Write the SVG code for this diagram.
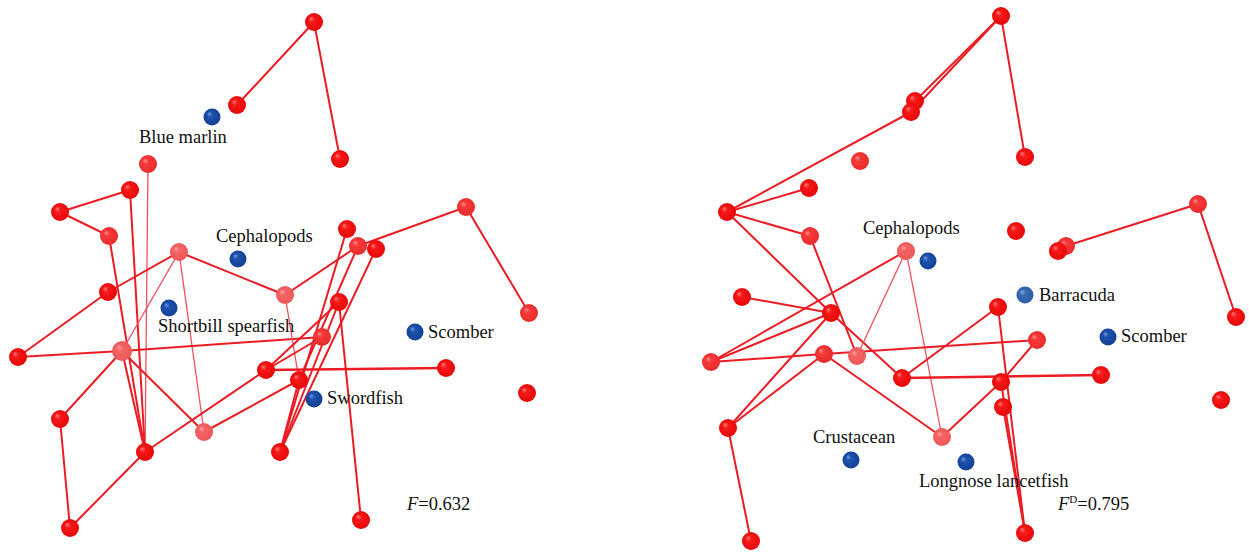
<svg xmlns="http://www.w3.org/2000/svg" width="1249" height="552" viewBox="0 0 1249 552">
<defs>
<radialGradient id="gR" cx="0.5" cy="0.5" r="0.55" fx="0.32" fy="0.3">
<stop offset="0" stop-color="#ff7a7a"/><stop offset="0.3" stop-color="#f71818"/><stop offset="1" stop-color="#e40606"/>
</radialGradient>
<radialGradient id="gLR" cx="0.5" cy="0.5" r="0.55" fx="0.32" fy="0.3">
<stop offset="0" stop-color="#ff8a8a"/><stop offset="0.3" stop-color="#f53a3a"/><stop offset="1" stop-color="#e82a2a"/>
</radialGradient>
<radialGradient id="gP" cx="0.5" cy="0.5" r="0.55" fx="0.32" fy="0.3">
<stop offset="0" stop-color="#ffa0a0"/><stop offset="0.3" stop-color="#f46464"/><stop offset="1" stop-color="#ec5656"/>
</radialGradient>
<radialGradient id="gB" cx="0.5" cy="0.5" r="0.55" fx="0.32" fy="0.3">
<stop offset="0" stop-color="#6f9be0"/><stop offset="0.3" stop-color="#1d52ad"/><stop offset="1" stop-color="#123f92"/>
</radialGradient>
<radialGradient id="gB2" cx="0.5" cy="0.5" r="0.55" fx="0.32" fy="0.3">
<stop offset="0" stop-color="#8cb0e6"/><stop offset="0.3" stop-color="#3a6db6"/><stop offset="1" stop-color="#2a5ca6"/>
</radialGradient>
</defs>
<style>
.e{stroke:#ec1c24;stroke-width:2;fill:none;stroke-linecap:round}
.t{stroke:#f05060;stroke-width:1.3;fill:none;stroke-linecap:round}
.r{fill:url(#gR)}
.lr{fill:url(#gLR)}
.p{fill:url(#gP)}
.b{fill:url(#gB)}
.b2{fill:url(#gB2)}
text{font-family:"Liberation Serif","Times New Roman",serif;font-size:18.5px;fill:#111}
</style>
<rect width="1249" height="552" fill="#ffffff"/>
<g id="connectors">
<!-- left panel -->
<line class="e" x1="314" y1="22" x2="237" y2="105"/>
<line class="e" x1="314" y1="22" x2="340" y2="159"/>
<line class="e" x1="60" y1="212" x2="130" y2="190"/>
<line class="e" x1="60" y1="212" x2="109" y2="236"/>
<line class="t" x1="148" y1="164" x2="145" y2="452"/>
<line class="e" x1="130" y1="190" x2="145" y2="452"/>
<line class="e" x1="109" y1="236" x2="145" y2="452"/>
<line class="e" x1="122" y1="351" x2="145" y2="452"/>
<line class="e" x1="18" y1="357" x2="108" y2="292"/>
<line class="e" x1="108" y1="292" x2="179" y2="252"/>
<line class="e" x1="179" y1="252" x2="285" y2="295"/>
<line class="t" x1="179" y1="252" x2="122" y2="351"/>
<line class="t" x1="179" y1="252" x2="204" y2="432"/>
<line class="e" x1="18" y1="357" x2="122" y2="351"/>
<line class="e" x1="122" y1="351" x2="322" y2="337"/>
<line class="e" x1="122" y1="351" x2="60" y2="419"/>
<line class="e" x1="122" y1="351" x2="204" y2="432"/>
<line class="e" x1="60" y1="419" x2="70" y2="528"/>
<line class="e" x1="70" y1="528" x2="145" y2="452"/>
<line class="e" x1="145" y1="452" x2="266" y2="370"/>
<line class="e" x1="204" y1="432" x2="299" y2="380"/>
<line class="e" x1="285" y1="295" x2="358" y2="246"/>
<line class="e" x1="358" y1="246" x2="466" y2="207"/>
<line class="e" x1="466" y1="207" x2="529" y2="313"/>
<line class="t" x1="285" y1="295" x2="299" y2="380"/>
<line class="e" x1="266" y1="370" x2="446" y2="368" style="stroke-width:2.6"/>
<line class="e" x1="266" y1="370" x2="339" y2="302"/>
<line class="e" x1="266" y1="370" x2="322" y2="337"/>
<line class="e" x1="280" y1="452" x2="347" y2="229"/>
<line class="e" x1="280" y1="452" x2="376" y2="249"/>
<line class="e" x1="280" y1="452" x2="339" y2="302"/>
<line class="e" x1="280" y1="452" x2="299" y2="380"/>
<line class="e" x1="299" y1="380" x2="358" y2="246"/>
<line class="e" x1="339" y1="302" x2="361" y2="520"/>
<!-- right panel -->
<line class="e" x1="1001" y1="16" x2="915" y2="101"/>
<line class="e" x1="1001" y1="16" x2="911" y2="112"/>
<line class="e" x1="1001" y1="16" x2="1025" y2="157"/>
<line class="e" x1="727" y1="212" x2="911" y2="112"/>
<line class="e" x1="727" y1="212" x2="809" y2="188"/>
<line class="e" x1="727" y1="212" x2="810" y2="236"/>
<line class="e" x1="727" y1="212" x2="831" y2="313"/>
<line class="e" x1="831" y1="313" x2="902" y2="378"/>
<line class="e" x1="810" y1="236" x2="857" y2="356"/>
<line class="e" x1="906" y1="251" x2="711" y2="362"/>
<line class="t" x1="906" y1="251" x2="857" y2="356"/>
<line class="t" x1="906" y1="251" x2="942" y2="437"/>
<line class="e" x1="742" y1="297" x2="831" y2="313"/>
<line class="e" x1="711" y1="362" x2="831" y2="313"/>
<line class="e" x1="711" y1="362" x2="824" y2="354"/>
<line class="e" x1="824" y1="354" x2="1037" y2="340"/>
<line class="e" x1="728" y1="428" x2="831" y2="313"/>
<line class="e" x1="728" y1="428" x2="824" y2="354"/>
<line class="e" x1="728" y1="428" x2="751" y2="541"/>
<line class="e" x1="824" y1="354" x2="942" y2="437"/>
<line class="e" x1="902" y1="378" x2="998" y2="307"/>
<line class="e" x1="902" y1="378" x2="1101" y2="375" style="stroke-width:2.6"/>
<line class="e" x1="942" y1="437" x2="1001" y2="382"/>
<line class="e" x1="1001" y1="382" x2="1037" y2="340"/>
<line class="e" x1="998" y1="307" x2="1025" y2="533"/>
<line class="e" x1="1001" y1="382" x2="1025" y2="533"/>
<line class="e" x1="1003" y1="407" x2="1025" y2="533"/>
<line class="e" x1="1066" y1="246" x2="1198" y2="204"/>
<line class="e" x1="1198" y1="204" x2="1236" y2="317"/>
</g>
<g id="L1"><circle class="r" cx="314" cy="22" r="9"/></g>
<g id="L2"><circle class="r" cx="237" cy="105" r="9"/></g>
<g id="L3"><circle class="r" cx="340" cy="159" r="9"/></g>
<g id="L4"><circle class="lr" cx="148" cy="164" r="9"/></g>
<g id="L5"><circle class="r" cx="130" cy="190" r="9"/></g>
<g id="L6"><circle class="r" cx="60" cy="212" r="9"/></g>
<g id="L7"><circle class="lr" cx="109" cy="236" r="9"/></g>
<g id="L8"><circle class="p" cx="179" cy="252" r="9"/></g>
<g id="L9"><circle class="p" cx="285" cy="295" r="9"/></g>
<g id="L10"><circle class="r" cx="347" cy="229" r="9"/></g>
<g id="L11"><circle class="lr" cx="358" cy="246" r="9"/></g>
<g id="L12"><circle class="r" cx="376" cy="249" r="9"/></g>
<g id="L13"><circle class="lr" cx="466" cy="207" r="9"/></g>
<g id="L14"><circle class="lr" cx="529" cy="313" r="9"/></g>
<g id="L15"><circle class="r" cx="339" cy="302" r="9"/></g>
<g id="L16"><circle class="r" cx="108" cy="292" r="9"/></g>
<g id="L17"><circle class="lr" cx="322" cy="337" r="9"/></g>
<g id="L18"><circle class="r" cx="18" cy="357" r="9"/></g>
<g id="L19"><circle class="p" cx="122" cy="351" r="10"/></g>
<g id="L20"><circle class="r" cx="266" cy="370" r="9"/></g>
<g id="L21"><circle class="r" cx="299" cy="380" r="9"/></g>
<g id="L22"><circle class="r" cx="446" cy="368" r="9"/></g>
<g id="L23"><circle class="r" cx="527" cy="393" r="9"/></g>
<g id="L24"><circle class="r" cx="60" cy="419" r="9"/></g>
<g id="L25"><circle class="p" cx="204" cy="432" r="9"/></g>
<g id="L26"><circle class="r" cx="145" cy="452" r="9"/></g>
<g id="L27"><circle class="r" cx="280" cy="452" r="9"/></g>
<g id="L28"><circle class="r" cx="70" cy="528" r="9"/></g>
<g id="L29"><circle class="r" cx="361" cy="520" r="9"/></g>
<g id="blue-marlin"><circle class="b" cx="212" cy="117" r="8.5"/><text x="139" y="143">Blue marlin</text></g>
<g id="cephalopods-left"><circle class="b" cx="238" cy="259" r="8.5"/><text x="216" y="242">Cephalopods</text></g>
<g id="shortbill-spearfish"><circle class="b" cx="169" cy="308" r="8.5"/><text x="158" y="332">Shortbill spearfish</text></g>
<g id="scomber-left"><circle class="b" cx="415" cy="332" r="8.5"/><text x="428" y="338">Scomber</text></g>
<g id="swordfish"><circle class="b" cx="314" cy="399" r="8.5"/><text x="327" y="404">Swordfish</text></g>
<g id="f-left"><text x="407" y="510"><tspan font-style="italic">F</tspan>=0.632</text></g>
<g id="R1"><circle class="r" cx="1001" cy="16" r="9"/></g>
<g id="R2"><circle class="r" cx="1025" cy="157" r="9"/></g>
<g id="R3"><circle class="r" cx="915" cy="101" r="9"/></g>
<g id="R4"><circle class="r" cx="911" cy="112" r="9"/></g>
<g id="R5"><circle class="lr" cx="860" cy="161" r="9"/></g>
<g id="R6"><circle class="r" cx="809" cy="188" r="9"/></g>
<g id="R7"><circle class="r" cx="727" cy="212" r="9"/></g>
<g id="R8"><circle class="lr" cx="810" cy="236" r="9"/></g>
<g id="R9"><circle class="p" cx="906" cy="251" r="9"/></g>
<g id="R10"><circle class="r" cx="1016" cy="231" r="9"/></g>
<g id="R11"><circle class="lr" cx="1066" cy="246" r="9"/></g>
<g id="R12"><circle class="r" cx="1058" cy="251" r="9"/></g>
<g id="R13"><circle class="lr" cx="1198" cy="204" r="9"/></g>
<g id="R14"><circle class="r" cx="1236" cy="317" r="9"/></g>
<g id="R15"><circle class="r" cx="998" cy="307" r="9"/></g>
<g id="R16"><circle class="lr" cx="1037" cy="340" r="9"/></g>
<g id="R17"><circle class="r" cx="1101" cy="375" r="9"/></g>
<g id="R18"><circle class="r" cx="1001" cy="382" r="9"/></g>
<g id="R19"><circle class="r" cx="1003" cy="407" r="9"/></g>
<g id="R20"><circle class="r" cx="1221" cy="400" r="9"/></g>
<g id="R21"><circle class="r" cx="1025" cy="533" r="9"/></g>
<g id="R22"><circle class="r" cx="742" cy="297" r="9"/></g>
<g id="R23"><circle class="r" cx="831" cy="313" r="9"/></g>
<g id="R24"><circle class="lr" cx="711" cy="362" r="9"/></g>
<g id="R25"><circle class="lr" cx="824" cy="354" r="9"/></g>
<g id="R26"><circle class="p" cx="857" cy="356" r="9"/></g>
<g id="R27"><circle class="r" cx="902" cy="378" r="9"/></g>
<g id="R28"><circle class="r" cx="728" cy="428" r="9"/></g>
<g id="R29"><circle class="p" cx="942" cy="437" r="9"/></g>
<g id="R30"><circle class="r" cx="751" cy="541" r="9"/></g>
<g id="cephalopods-right"><circle class="b" cx="928" cy="261" r="8.5"/><text x="863" y="234">Cephalopods</text></g>
<g id="barracuda"><circle class="b2" cx="1025" cy="295" r="8.5"/><text x="1039" y="301">Barracuda</text></g>
<g id="scomber-right"><circle class="b" cx="1108" cy="337" r="8.5"/><text x="1121" y="342">Scomber</text></g>
<g id="crustacean"><circle class="b" cx="851" cy="460" r="8.5"/><text x="813" y="443">Crustacean</text></g>
<g id="longnose-lancetfish"><circle class="b" cx="966" cy="462" r="8.5"/><text x="919" y="487">Longnose lancetfish</text></g>
<g id="f-right"><text x="1058" y="510"><tspan font-style="italic">F</tspan><tspan font-size="11" dy="-7">D</tspan><tspan dy="7">=0.795</tspan></text></g>
</svg>
